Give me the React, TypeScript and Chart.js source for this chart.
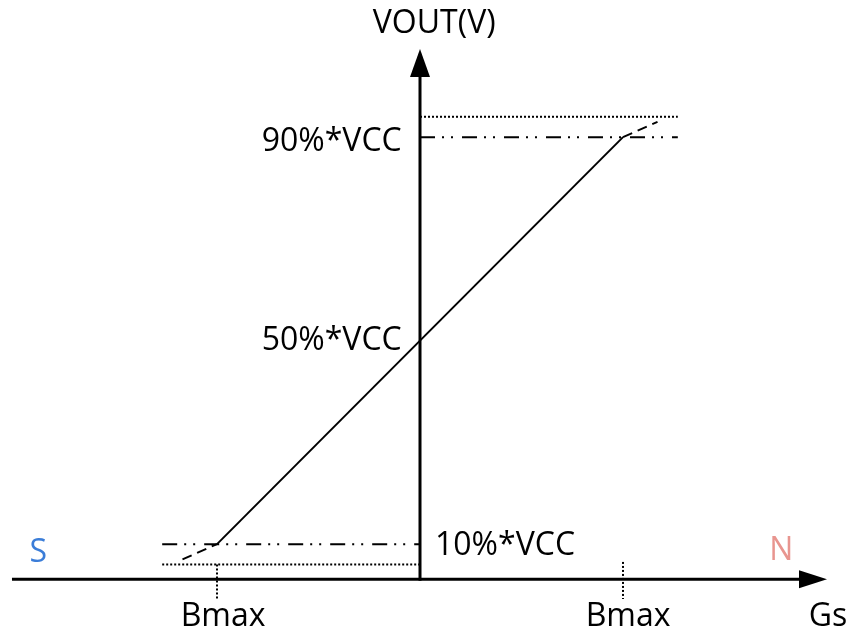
import React, { useEffect, useRef } from "react";
import { Chart, registerables } from "chart.js";

Chart.register(...registerables);

// Diagram values (x in units of Bmax, y in % of VCC)
const BMAX = 1;
const LOW_PCT = 10;
const HIGH_PCT = 90;
const transferLine = [
  { x: -BMAX, y: LOW_PCT },
  { x: BMAX, y: HIGH_PCT },
];
const extLeft = [
  { x: -1.17, y: 7 },
  { x: -BMAX, y: LOW_PCT },
];
const extRight = [
  { x: BMAX, y: HIGH_PCT },
  { x: 1.17, y: 93 },
];
const dashDotLow = [
  { x: -1.27, y: LOW_PCT },
  { x: 0, y: LOW_PCT },
];
const dashDotHigh = [
  { x: 0, y: HIGH_PCT },
  { x: 1.27, y: HIGH_PCT },
];
const dottedLow = [
  { x: -1.27, y: 6 },
  { x: 0, y: 6 },
];
const dottedHigh = [
  { x: 0, y: 94 },
  { x: 1.27, y: 94 },
];
const bmaxMarkLeft = [
  { x: -BMAX, y: 6 },
  { x: -BMAX, y: -0.8 },
];
const bmaxMarkRight = [
  { x: BMAX, y: 6.5 },
  { x: BMAX, y: -0.8 },
];
// axis extents
const AXIS_BASE_Y = 3.1;
const X_AXIS_FROM = -2.01;
const X_AXIS_TO = 2.005;
const Y_AXIS_TO = 107.3;

const labelTexts = ["VOUT(V)", "90%*VCC", "50%*VCC", "10%*VCC", "S", "N", "Bmax", "Bmax", "Gs"];
const labelX = [0.07, -0.09, -0.09, 0.074, -1.88, 1.78, -0.97, 1.025, 2.01];
const labelY = [112.2, 89.0, 50.0, 9.7, 8.3, 8.7, -4.4, -4.4, -4.4];
const labelAlign = ["center", "right", "right", "left", "center", "center", "center", "center", "center"];
const labelColor = ["#000", "#000", "#000", "#000", "#3b7dd8", "#e8958f", "#000", "#000", "#000"];

const FONT = '32px "Open Sans", "Noto Sans", sans-serif';

export default function App() {
  const ref = useRef<HTMLCanvasElement | null>(null);
  useEffect(() => {
    const canvas = ref.current;
    if (!canvas) return;

    const axesPlugin = {
      id: "axesArrows",
      afterDatasetsDraw(chart: any) {
        const ctx = chart.ctx;
        const xs = chart.scales.x;
        const ys = chart.scales.y;
        const y0 = ys.getPixelForValue(AXIS_BASE_Y);
        const x0 = xs.getPixelForValue(0);
        const xl = xs.getPixelForValue(X_AXIS_FROM);
        const xr = xs.getPixelForValue(X_AXIS_TO);
        const yt = ys.getPixelForValue(Y_AXIS_TO);
        ctx.save();
        ctx.strokeStyle = "#000";
        ctx.fillStyle = "#000";
        ctx.lineWidth = 3;
        ctx.setLineDash([]);
        // x axis
        ctx.beginPath();
        ctx.moveTo(xl, y0);
        ctx.lineTo(xr - 20, y0);
        ctx.stroke();
        ctx.beginPath();
        ctx.moveTo(xr, y0);
        ctx.lineTo(xr - 28, y0 - 9);
        ctx.lineTo(xr - 28, y0 + 9);
        ctx.closePath();
        ctx.fill();
        // y axis
        ctx.beginPath();
        ctx.moveTo(x0, y0 + 1.5);
        ctx.lineTo(x0, yt + 20);
        ctx.stroke();
        ctx.beginPath();
        ctx.moveTo(x0, yt);
        ctx.lineTo(x0 - 10, yt + 28);
        ctx.lineTo(x0 + 10, yt + 28);
        ctx.closePath();
        ctx.fill();
        // labels
        ctx.font = FONT;
        ctx.textBaseline = "middle";
        for (let i = 0; i < labelTexts.length; i++) {
          ctx.fillStyle = labelColor[i];
          ctx.textAlign = labelAlign[i] as CanvasTextAlign;
          ctx.fillText(labelTexts[i], xs.getPixelForValue(labelX[i]), ys.getPixelForValue(labelY[i]));
        }
        ctx.restore();
      },
    };

    const lineDs = (data: any[], dash: number[], width: number) => ({
      data,
      showLine: true,
      borderColor: "#000",
      borderWidth: width,
      borderDash: dash,
      pointRadius: 0,
      fill: false,
      tension: 0,
    });

    const chart = new Chart(canvas, {
      type: "scatter",
      data: {
        datasets: [
          lineDs(transferLine, [], 2),
          lineDs(extLeft, [10, 6], 2),
          lineDs(extRight, [10, 6], 2),
          lineDs(dashDotLow, [15, 7, 2, 7, 2, 9], 2),
          lineDs(dashDotHigh, [15, 7, 2, 7, 2, 9], 2),
          lineDs(dottedLow, [2, 2], 2),
          lineDs(dottedHigh, [2, 2], 2),
          lineDs(bmaxMarkLeft, [2, 2], 2),
          lineDs(bmaxMarkRight, [2, 2], 2),
        ] as any,
      },
      options: {
        animation: false,
        responsive: false,
        layout: { padding: 0 },
        plugins: { legend: { display: false }, tooltip: { enabled: false } },
        scales: {
          x: { type: "linear", display: false, min: -420 / 203, max: 430 / 203 },
          y: { type: "linear", display: false, min: -39 / 5.0875, max: 595 / 5.0875 },
        },
      },
      plugins: [axesPlugin],
    });
    return () => chart.destroy();
  }, []);

  return (
    <div style={{ position: "fixed", left: 0, top: 0, width: 850, height: 634, background: "#fff" }}>
      <canvas ref={ref} width={850} height={634} />
    </div>
  );
}
